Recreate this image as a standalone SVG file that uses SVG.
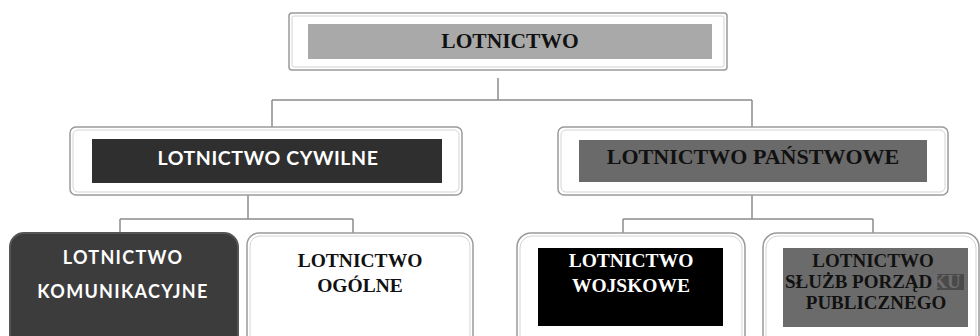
<svg xmlns="http://www.w3.org/2000/svg" width="980" height="336" viewBox="0 0 980 336">
  <style>
    .frame { fill: #ffffff; stroke: #9a9a9a; stroke-width: 1.5; }
    .frame-in { fill: none; stroke: #d4d4d4; stroke-width: 1; }
    .serif { font-family: "Liberation Serif", "Times New Roman", serif; font-weight: bold; text-anchor: middle; }
    .left { text-anchor: start; }
    .sans { font-family: Lato, "Liberation Sans", sans-serif; font-weight: bold; text-anchor: middle; fill: #ffffff; }
    .link { fill: none; stroke: #8c8c8c; stroke-width: 1.5; }
  </style>

  <rect width="980" height="336" fill="#ffffff"/>

  <!-- connectors -->
  <g id="connectors">
    <path class="link" d="M498,78 V100 M272,100 H752 M272,100 V127 M752,100 V127"/>
    <path class="link" d="M248,195 V219 M120,219 H353 M120,219 V233 M353,219 V233"/>
    <path class="link" d="M752,195 V219 M623,219 H873 M623,219 V233 M873,219 V233"/>
  </g>

  <!-- root -->
  <g id="lotnictwo">
    <rect class="frame" x="289" y="13" width="438" height="57" rx="3"/>
    <rect class="frame-in" x="292" y="16" width="432" height="51" rx="2"/>
    <rect x="308" y="24" width="404" height="35" fill="#a9a9a9"/>
    <text class="serif" x="510" y="48" font-size="21.5" fill="#111111">LOTNICTWO</text>
  </g>

  <!-- civil branch -->
  <g id="lotnictwo-cywilne">
    <rect class="frame" x="70" y="127" width="392" height="68" rx="6"/>
    <rect class="frame-in" x="73" y="130" width="386" height="62" rx="5"/>
    <rect x="92" y="139" width="350" height="44" fill="#2f2f2f"/>
    <text class="sans" x="268" y="165" font-size="19.5" letter-spacing="0.6">LOTNICTWO CYWILNE</text>
  </g>

  <!-- state branch -->
  <g id="lotnictwo-panstwowe">
    <rect class="frame" x="558" y="127" width="390" height="68" rx="6"/>
    <rect class="frame-in" x="561" y="130" width="384" height="62" rx="5"/>
    <rect x="579" y="140" width="348" height="42" fill="#6a6a6a"/>
    <text class="serif" x="753" y="164" font-size="22" fill="#111111">LOTNICTWO PAŃSTWOWE</text>
  </g>

  <!-- leaves -->
  <g id="lotnictwo-komunikacyjne">
    <rect x="10" y="233" width="228" height="118" rx="14" fill="#3c3c3c" stroke="#555555" stroke-width="2"/>
    <text class="sans" x="123" y="264" font-size="18" letter-spacing="1.3">LOTNICTWO</text>
    <text class="sans" x="123" y="298" font-size="18" letter-spacing="1.3">KOMUNIKACYJNE</text>
  </g>

  <g id="lotnictwo-ogolne">
    <rect class="frame" x="247" y="233" width="226" height="118" rx="12"/>
    <rect class="frame-in" x="250" y="236" width="220" height="112" rx="10"/>
    <text class="serif" x="360" y="267" font-size="19.5" fill="#111111">LOTNICTWO</text>
    <text class="serif" x="360" y="292" font-size="19.5" fill="#111111">OGÓLNE</text>
  </g>

  <g id="lotnictwo-wojskowe">
    <rect class="frame" x="517" y="233" width="228" height="118" rx="14"/>
    <rect class="frame-in" x="520" y="236" width="222" height="112" rx="12"/>
    <rect x="538" y="248" width="185" height="78" fill="#000000"/>
    <text class="serif" x="631" y="267" font-size="19.5" fill="#ffffff">LOTNICTWO</text>
    <text class="serif" x="631" y="292" font-size="19.5" fill="#ffffff">WOJSKOWE</text>
  </g>

  <g id="lotnictwo-sluzb-porzadku-publicznego">
    <rect class="frame" x="763" y="233" width="216" height="118" rx="14"/>
    <rect class="frame-in" x="766" y="236" width="210" height="112" rx="12"/>
    <rect x="783" y="248" width="185" height="79" fill="#6b6b6b"/>
    <rect x="937" y="274" width="27" height="16" fill="#4a4a4a"/>
    <text class="serif" x="873" y="267" font-size="19" fill="#111111">LOTNICTWO</text>
    <text class="serif left" x="785" y="288" font-size="19" fill="#111111">SŁUŻB PORZĄD<tspan fill="#6e6e6e">KU</tspan></text>
    <text class="serif" x="876" y="309" font-size="19" fill="#111111">PUBLICZNEGO</text>
  </g>
</svg>
